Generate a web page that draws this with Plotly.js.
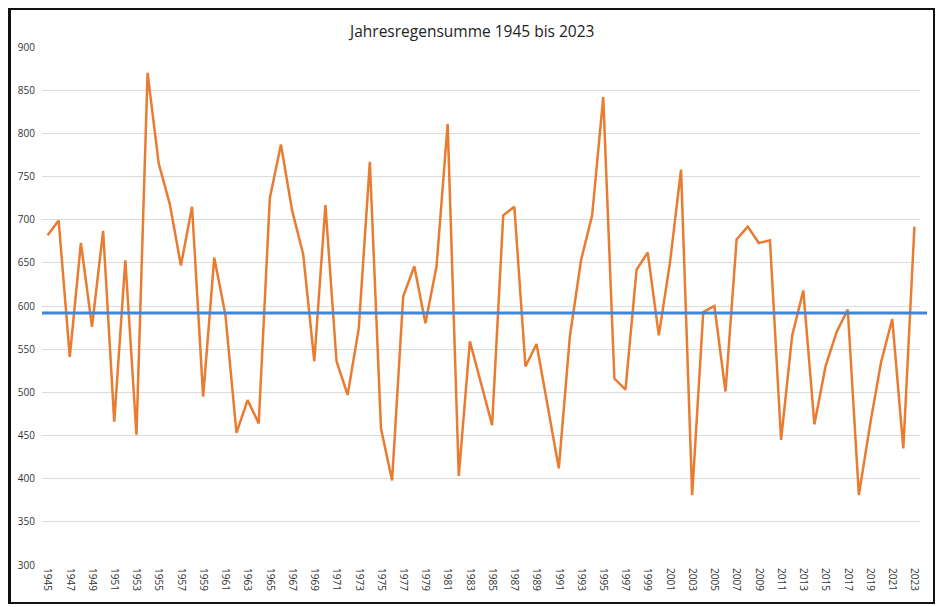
<!DOCTYPE html>
<html>
<head>
<meta charset="utf-8">
<script src="https://cdn.plot.ly/plotly-3.0.1.min.js"></script>
<style>
  html, body { margin: 0; padding: 0; background: #fff; }
  #wrap { position: relative; width: 937px; height: 607px; }
  #chart { width: 937px; height: 607px; }
  #frame { position: absolute; left: 8px; top: 8px; width: 922px; height: 592px; border: 2px solid #111; border-left-width: 3px; pointer-events: none; }
</style>
</head>
<body>
<div id="wrap"><div id="chart"></div><div id="frame"></div></div>
<script>
const years = [];
for (let y = 1945; y <= 2023; y++) years.push(y);

const rainfall = [
  682, 699, 541, 673, 576, 687, 466, 653, 451, 870,
  765, 718, 647, 715, 495, 656, 590, 453, 491, 464,
  725, 787, 711, 660, 536, 717, 536, 497, 574, 767,
  458, 398, 611, 646, 580, 646, 811, 403, 559, 511,
  462, 705, 715, 530, 556, 484, 412, 565, 653, 705,
  842, 516, 503, 642, 662, 566, 650, 758, 381, 593,
  600, 501, 677, 692, 673, 676, 445, 566, 618, 463,
  530, 570, 596, 381, 462, 535, 585, 435, 692
];

const averageRain = 592;

const tickYears = years.filter(y => (y - 1945) % 2 === 0);
const yTicks = [300, 350, 400, 450, 500, 550, 600, 650, 700, 750, 800, 850, 900];

const trace = {
  x: years,
  y: rainfall,
  type: 'scatter',
  mode: 'lines',
  line: { color: '#E97C30', width: 2.5 },
  hoverinfo: 'x+y'
};

const tickFont = { family: 'Open Sans, Liberation Sans, sans-serif', size: 10, color: '#333333' };

const layout = {
  width: 937,
  height: 607,
  margin: { l: 42, r: 17, t: 47, b: 42 },
  paper_bgcolor: '#ffffff',
  plot_bgcolor: '#ffffff',
  showlegend: false,
  title: {
    text: 'Jahresregensumme 1945 bis 2023',
    font: { family: 'Open Sans, Liberation Sans, sans-serif', size: 15.5, color: '#222' },
    x: 0.504, xanchor: 'center',
    y: 0.948, yanchor: 'middle'
  },
  xaxis: {
    range: [1944.5, 2023.5],
    tickmode: 'array',
    tickvals: tickYears,
    ticktext: tickYears.map(String),
    tickangle: 90,
    tickfont: tickFont,
    showgrid: false,
    zeroline: false,
    showline: false,
    ticks: '',
    ticklabelstandoff: 2
  },
  yaxis: {
    range: [300, 900],
    tickmode: 'array',
    tickvals: yTicks,
    ticktext: yTicks.map(String),
    tickfont: tickFont,
    showgrid: true,
    gridcolor: '#dcdcdc',
    gridwidth: 1,
    zeroline: false,
    showline: false,
    ticks: '',
    ticklabelstandoff: 6
  },
  shapes: [{
    type: 'line',
    xref: 'paper', yref: 'y',
    x0: 0, x1: 1.008,
    y0: averageRain, y1: averageRain,
    line: { color: '#4285D6', width: 3 }
  }]
};

Plotly.newPlot('chart', [trace], layout, { displayModeBar: false, staticPlot: true });
</script>
</body>
</html>
